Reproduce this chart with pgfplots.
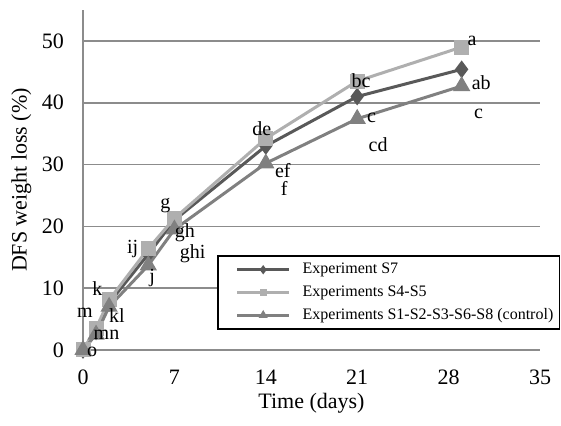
\documentclass[border=0pt]{standalone}
\usepackage{pgfplots}
\pgfplotsset{compat=1.18}
\usepackage{fontspec}
\setmainfont{Liberation Serif}
\definecolor{cSseven}{RGB}{89,89,89}
\definecolor{cSfour}{RGB}{175,175,175}
\definecolor{cCtrl}{RGB}{128,128,128}
\definecolor{cGrid}{RGB}{140,140,140}
\begin{document}
\begin{tikzpicture}
\begin{axis}[
  set layers,
  scale only axis,
  width=228.5pt, height=170pt,
  xmin=0, xmax=35, ymin=0, ymax=55,
  xtick={0,7,14,21,28,35},
  ytick={0,10,20,30,40,50},
  axis lines=left,
  axis line style={cGrid, line width=0.8pt, -},
  major tick length=0pt,
  ymajorgrids,
  grid style={cGrid, line width=0.8pt},
  /pgf/number format/assume math mode=true,
  tick label style={font=\fontsize{11}{13}\selectfont},
  xticklabel style={yshift=-6.5pt},
  yticklabel style={xshift=-6pt},
  xlabel={Time (days)},
  ylabel={DFS weight loss (\%)},
  label style={font=\fontsize{11}{13}\selectfont},
  xlabel style={at={(axis description cs:0.5,-0.156)}, anchor=center},
  ylabel style={at={(axis description cs:-0.135,0.5)}, anchor=center, rotate=0},
  clip=false,
  legend style={at={(rel axis cs:0.293,0.279)}, anchor=north west,
    draw=black, line width=0.8pt, font=\fontsize{8}{9}\selectfont,
    inner xsep=1pt, inner ysep=1.5pt, row sep=0.5pt},
  legend cell align=left,
  legend image code/.code={\path (0pt,0pt); \draw[#1] (8pt,0pt) -- (34pt,0pt); \draw[#1, mark options={solid, scale=0.55}] plot coordinates {(21pt,0pt)};\path (38pt,0pt);},
]
\addplot[cSseven, line width=1.5pt, mark=diamond*, mark options={solid, scale=1.6}]
  coordinates {(0,0) (1,3.0) (2,7.6) (5,15.5) (7,21.0) (14,33.0) (21,41.0) (29,45.4)};
\addlegendentry{Experiment S7}
\addplot[cSfour, line width=1.5pt, mark=square*, mark options={solid, scale=1.5}]
  coordinates {(0,0) (1,3.5) (2,8.1) (5,16.4) (7,21.3) (14,34.2) (21,43.5) (29,49.0)};
\addlegendentry{Experiments S4-S5}
\addplot[cCtrl, line width=1.5pt, mark=triangle*, mark options={solid, scale=1.75}]
  coordinates {(0,0) (1,2.5) (2,7.0) (5,13.7) (7,19.5) (14,30.2) (21,37.4) (29,42.7)};
\addlegendentry{Experiments S1-S2-S3-S6-S8 (control)}
\begin{pgfonlayer}{axis foreground}
\begin{scope}[every node/.style={font=\fontsize{10}{12}\selectfont, inner sep=0pt}]
\node at (axis cs:29.8,50.0) {a};
\node at (axis cs:30.5,43.2) {ab};
\node at (axis cs:30.3,38.2) {c};
\node at (axis cs:21.3,43.5) {bc};
\node at (axis cs:22.1,37.6) {c};
\node at (axis cs:22.6,33.2) {cd};
\node at (axis cs:13.7,35.8) {de};
\node at (axis cs:15.3,29.0) {ef};
\node at (axis cs:15.4,26.1) {f};
\node at (axis cs:6.3,23.4) {g};
\node at (axis cs:7.8,19.0) {gh};
\node at (axis cs:8.4,15.6) {ghi};
\node at (axis cs:3.8,16.4) {ij};
\node at (axis cs:5.3,11.6) {j};
\node at (axis cs:1.1,10.0) {k};
\node at (axis cs:0.15,6.0) {m};
\node at (axis cs:2.6,5.6) {kl};
\node at (axis cs:1.8,2.4) {mn};
\node at (axis cs:0.7,-0.3) {o};
\end{scope}
\end{pgfonlayer}
\end{axis}
\pgfresetboundingbox
\useasboundingbox (-41.5pt,-38pt) rectangle (239pt,175pt);
\end{tikzpicture}
\end{document}
